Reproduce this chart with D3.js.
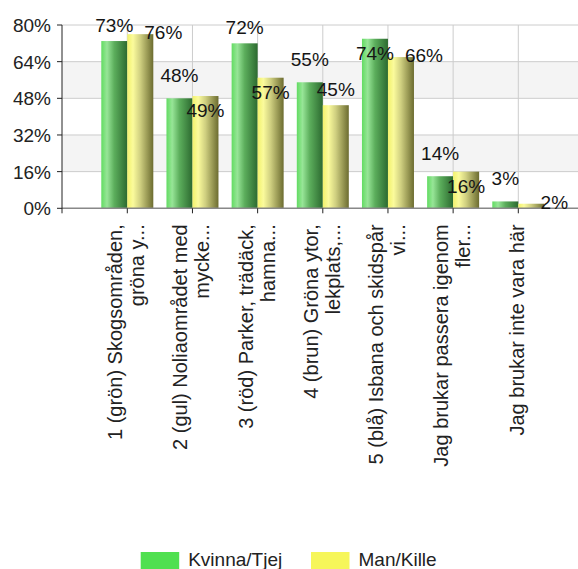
<!DOCTYPE html>
<html>
<head>
<meta charset="utf-8">
<script src="https://cdn.jsdelivr.net/npm/d3@7"></script>
<style>
  html, body { margin: 0; padding: 0; background: #fff; }
  svg { display: block; font-family: Arial, "Liberation Sans", sans-serif; }
</style>
</head>
<body>
<div id="plot"></div>
<script>
const categories = [
  ["1 (grön) Skogsområden,", "gröna y..."],
  ["2 (gul) Noliaområdet med", "mycke..."],
  ["3 (röd) Parker, trädäck,", "hamna..."],
  ["4 (brun)  Gröna ytor,", "lekplats,..."],
  ["5 (blå) Isbana och skidspår", "vi..."],
  ["Jag brukar passera igenom", "fler..."],
  ["Jag brukar inte vara här"]
];
const kvinna = [73, 48, 72, 55, 74, 14, 3];
const man = [76, 49, 57, 45, 66, 16, 2];
const yTicks = [0, 16, 32, 48, 64, 80];
const seriesNames = ["Kvinna/Tjej", "Man/Kille"];

// where each value label sits relative to its bar
const labelModesK = ["top", "above", "top", "above", "inside", "above", "above"];
const labelModesM = ["side", "inside", "inside", "top", "side", "inside", "side"];

const width = 578;
const height = 569;
const plot = { left: 62, right: 578, top: 25, bottom: 208.3 };
const barW = 26;

const svg = d3.select("#plot")
  .append("svg")
  .attr("width", width)
  .attr("height", height);

// gradients for the bars
const defs = svg.append("defs");
function gradient(id, stops) {
  const g = defs.append("linearGradient")
    .attr("id", id)
    .attr("x1", "0%").attr("x2", "100%")
    .attr("y1", "0%").attr("y2", "0%");
  stops.forEach(s => g.append("stop").attr("offset", s[0]).attr("stop-color", s[1]));
}
gradient("gGreen", [["0%", "#62dc62"], ["22%", "#97e597"], ["50%", "#5cae5c"], ["100%", "#2c6a30"]]);
gradient("gYellow", [["0%", "#f2f26c"], ["22%", "#fbfb9c"], ["50%", "#cfcf80"], ["100%", "#6c6c30"]]);

const x = d3.scalePoint()
  .domain(d3.range(categories.length))
  .range([127.3, 518.3]);

const y = d3.scaleLinear()
  .domain([0, 80])
  .range([plot.bottom, plot.top]);

// alternating bands
const bands = svg.append("g");
yTicks.slice(0, -1).forEach((t, i) => {
  if (i % 2 === 1) {
    bands.append("rect")
      .attr("x", plot.left)
      .attr("y", y(yTicks[i + 1]))
      .attr("width", plot.right - plot.left)
      .attr("height", y(t) - y(yTicks[i + 1]))
      .attr("fill", "#f4f4f4");
  }
});

// grid
svg.append("g")
  .selectAll("line")
  .data(yTicks.slice(1))
  .enter().append("line")
  .attr("x1", plot.left).attr("x2", plot.right)
  .attr("y1", d => y(d)).attr("y2", d => y(d))
  .attr("stroke", "#cccccc");

svg.append("g")
  .selectAll("line")
  .data(x.domain())
  .enter().append("line")
  .attr("x1", d => x(d)).attr("x2", d => x(d))
  .attr("y1", plot.top).attr("y2", plot.bottom)
  .attr("stroke", "#cccccc");

// bars
const series = [
  { values: kvinna, fill: "url(#gGreen)", dx: -barW, modes: labelModesK },
  { values: man, fill: "url(#gYellow)", dx: 0, modes: labelModesM }
];

series.forEach(s => {
  svg.append("g")
    .selectAll("rect")
    .data(s.values)
    .enter().append("rect")
    .attr("x", (d, i) => x(i) + s.dx)
    .attr("y", d => y(d))
    .attr("width", barW)
    .attr("height", d => y(0) - y(d))
    .attr("fill", s.fill);
});

// axes
svg.append("line")
  .attr("x1", plot.left).attr("x2", plot.right)
  .attr("y1", plot.bottom).attr("y2", plot.bottom)
  .attr("stroke", "#888").attr("stroke-width", 1.5);

svg.append("line")
  .attr("x1", plot.left).attr("x2", plot.left)
  .attr("y1", plot.top).attr("y2", plot.bottom + 5)
  .attr("stroke", "#222");

svg.append("g")
  .selectAll("line")
  .data(yTicks)
  .enter().append("line")
  .attr("x1", plot.left - 5).attr("x2", plot.left)
  .attr("y1", d => y(d)).attr("y2", d => y(d))
  .attr("stroke", "#222");

svg.append("g")
  .selectAll("line")
  .data(x.domain())
  .enter().append("line")
  .attr("x1", d => x(d)).attr("x2", d => x(d))
  .attr("y1", plot.bottom).attr("y2", plot.bottom + 5)
  .attr("stroke", "#222");

svg.append("g")
  .selectAll("text")
  .data(yTicks)
  .enter().append("text")
  .attr("x", plot.left - 11)
  .attr("y", d => y(d) + 7)
  .attr("text-anchor", "end")
  .attr("font-size", 19)
  .attr("fill", "#222")
  .text(d => d + "%");

// category labels, rotated
const lineH = 22;
categories.forEach((lines, i) => {
  const t = svg.append("text")
    .attr("transform", `translate(${x(i)},${plot.bottom + 16}) rotate(-90)`)
    .attr("text-anchor", "end")
    .attr("font-size", 20)
    .attr("fill", "#222");
  lines.forEach((ln, j) => {
    t.append("tspan")
      .attr("x", 0)
      .attr("y", 6 + (j - (lines.length - 1) / 2) * lineH)
      .text(ln);
  });
});

// value labels
const modeOffset = {
  above: { dx: 0, dy: -16 },
  top: { dx: 0, dy: -9 },
  inside: { dx: 0, dy: 21 },
  side: { dx: 23, dy: 5 }
};
series.forEach(s => {
  svg.append("g")
    .selectAll("text")
    .data(s.values)
    .enter().append("text")
    .attr("x", (d, i) => x(i) + s.dx + barW / 2 + modeOffset[s.modes[i]].dx)
    .attr("y", (d, i) => y(d) + modeOffset[s.modes[i]].dy)
    .attr("text-anchor", "middle")
    .attr("font-size", 19)
    .attr("fill", "#151515")
    .text(d => d + "%");
});

// legend
const legendColors = ["#50e050", "#f6f65a"];
const legendX = [140.7, 311];
seriesNames.forEach((name, i) => {
  svg.append("rect")
    .attr("x", legendX[i]).attr("y", 552)
    .attr("width", 38.5).attr("height", 17)
    .attr("fill", legendColors[i]);
  svg.append("text")
    .attr("x", legendX[i] + 47.5).attr("y", 566)
    .attr("font-size", 19)
    .attr("fill", "#222")
    .text(name);
});
</script>
</body>
</html>
